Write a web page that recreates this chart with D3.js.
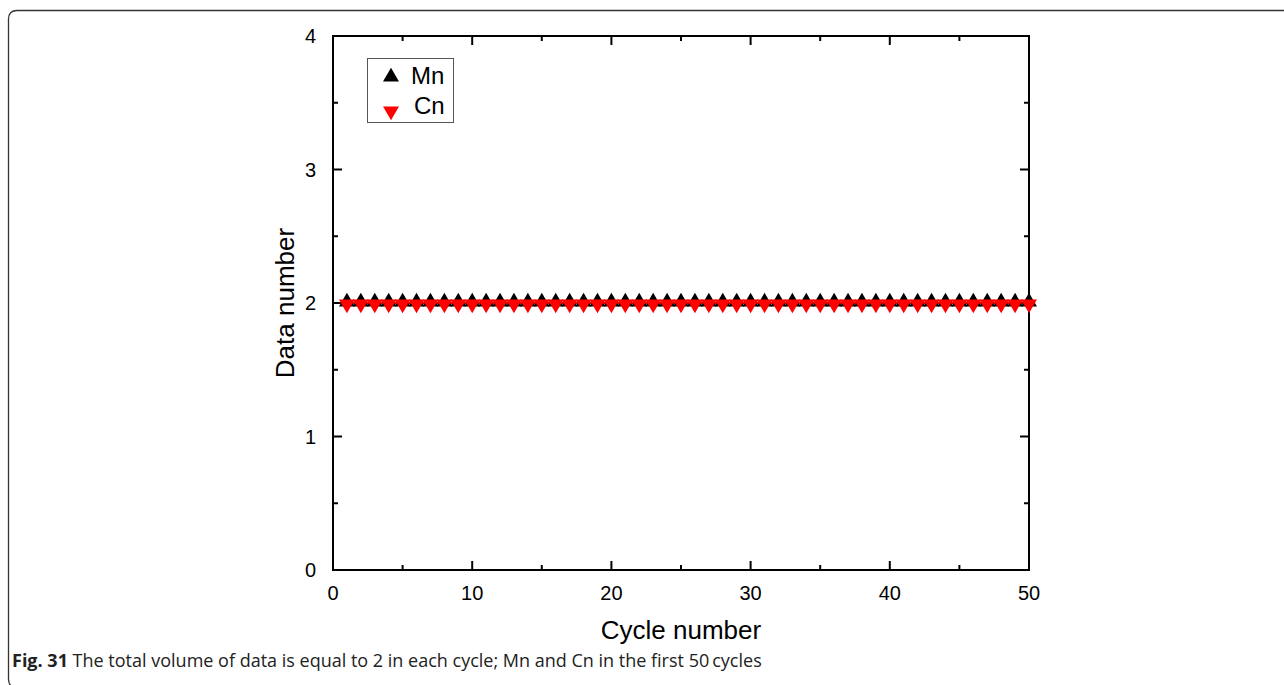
<!DOCTYPE html>
<html lang="en">
	<head>
		<meta charset="utf-8">
		<title>Data number per cycle</title>
		<script src="https://d3js.org/d3.v7.min.js"></script>
		<style type="text/css">
			body { margin: 0; background: #fff; }
			text { font-family: "Liberation Sans", Arial, sans-serif; fill: #000; }
			.tick-label { font-size: 20px; }
			.axis-label { font-size: 26px; }
			.caption { font-family: "Open Sans", sans-serif; font-size: 18px; fill: #222; }
		</style>
	</head>
	<body>
		<script type="text/javascript">
			// Data
			var cycles = d3.range(1, 51);
			var mnValues = cycles.map(function() { return 1; });
			var cnValues = cycles.map(function() { return 1; });
			var xTicks = [0, 10, 20, 30, 40, 50];
			var yTicks = [0, 1, 2, 3, 4];
			var seriesNames = ["Mn", "Cn"];

			var w = 1284, h = 685;
			var margin = {top: 36, right: 255, bottom: 115, left: 333};

			var svg = d3.select("body").append("svg")
				.attr("width", w)
				.attr("height", h);

			// Outer frame (rounded at left, bottom edge falls just off the page)
			svg.append("path")
				.attr("d", "M1300,10.5 L17,10.5 Q8.5,10.5 8.5,19 L8.5,679 Q8.5,687.5 17,687.5 L1300,687.5")
				.attr("fill", "none")
				.attr("stroke", "#333")
				.attr("stroke-width", 1.3);

			var xScale = d3.scaleLinear().domain([0, 50]).range([margin.left, w - margin.right]);
			var yScale = d3.scaleLinear().domain([0, 4]).range([h - margin.bottom, margin.top]);

			var x0 = xScale(0), x1 = xScale(50), y0 = yScale(0), y1 = yScale(4);

			// Ticks (inward, mirrored on top/right)
			var g = svg.append("g").attr("stroke", "#000").attr("stroke-width", 2);
			d3.range(0, 51, 5).forEach(function(v) {
				var len = v % 10 === 0 ? 9 : 5;
				g.append("line").attr("x1", xScale(v)).attr("x2", xScale(v)).attr("y1", y0).attr("y2", y0 - len);
				g.append("line").attr("x1", xScale(v)).attr("x2", xScale(v)).attr("y1", y1).attr("y2", y1 + len);
			});
			d3.range(0, 4.01, 0.5).forEach(function(v) {
				var len = Math.abs(v - Math.round(v)) < 1e-9 ? 9 : 5;
				g.append("line").attr("y1", yScale(v)).attr("y2", yScale(v)).attr("x1", x0).attr("x2", x0 + len);
				g.append("line").attr("y1", yScale(v)).attr("y2", yScale(v)).attr("x1", x1).attr("x2", x1 - len);
			});

			// Plot frame
			svg.append("rect")
				.attr("x", x0).attr("y", y1)
				.attr("width", x1 - x0).attr("height", y0 - y1)
				.attr("fill", "none").attr("stroke", "#000").attr("stroke-width", 2);

			// Tick labels
			svg.selectAll("text.xt").data(xTicks).enter().append("text")
				.attr("class", "tick-label")
				.attr("x", function(d) { return xScale(d); })
				.attr("y", y0 + 30)
				.attr("text-anchor", "middle")
				.text(function(d) { return d; });
			svg.selectAll("text.yt").data(yTicks).enter().append("text")
				.attr("class", "tick-label")
				.attr("x", x0 - 17)
				.attr("y", function(d) { return yScale(d) + 7; })
				.attr("text-anchor", "end")
				.text(function(d) { return d; });

			// Axis labels
			svg.append("text")
				.attr("class", "axis-label")
				.attr("x", (x0 + x1) / 2)
				.attr("y", y0 + 69)
				.attr("text-anchor", "middle")
				.text("Cycle number");
			svg.append("text")
				.attr("class", "axis-label")
				.attr("transform", "translate(294," + yScale(2) + ") rotate(-90)")
				.attr("text-anchor", "middle")
				.text("Data number");

			// Series: total data per cycle (Mn + Cn) plotted for each series
			var mnData = cycles.map(function(c, i) { return {x: c, y: mnValues[i] + cnValues[i]}; });
			var cnData = cycles.map(function(c, i) { return {x: c, y: mnValues[i] + cnValues[i]}; });

			var line = d3.line().x(function(d) { return xScale(d.x); }).y(function(d) { return yScale(d.y); });
			svg.append("path").datum(mnData).attr("d", line)
				.attr("fill", "none").attr("stroke", "#000").attr("stroke-width", 1.5);

			var tri = d3.symbol().type(d3.symbolTriangle).size(110);

			svg.selectAll("path.mn").data(mnData).enter().append("path")
				.attr("class", "mn")
				.attr("d", tri)
				.attr("fill", "#000")
				.attr("transform", function(d) { return "translate(" + xScale(d.x) + "," + (yScale(d.y) - 1) + ")"; });

			svg.append("path").datum(cnData).attr("d", line)
				.attr("fill", "none").attr("stroke", "#f00").attr("stroke-width", 1);

			svg.selectAll("path.cn").data(cnData).enter().append("path")
				.attr("class", "cn")
				.attr("d", tri)
				.attr("fill", "#f00")
				.attr("transform", function(d) { return "translate(" + xScale(d.x) + "," + (yScale(d.y) + 1) + ") rotate(180)"; });

			// Legend
			var lg = svg.append("g");
			lg.append("rect")
				.attr("x", 367.5).attr("y", 58.5)
				.attr("width", 86).attr("height", 64)
				.attr("fill", "#fff").attr("stroke", "#555").attr("stroke-width", 1);
			var legendItems = lg.selectAll("g.item").data(seriesNames).enter().append("g")
				.attr("class", "item")
				.attr("transform", function(d, i) { return "translate(391," + (77 + i * 34) + ")"; });
			legendItems.append("path")
				.attr("d", tri)
				.attr("fill", function(d, i) { return i === 0 ? "#000" : "#f00"; })
				.attr("transform", function(d, i) { return i === 0 ? "" : "rotate(180)"; });
			legendItems.append("text")
				.attr("x", function(d, i) { return i === 0 ? 20 : 23; })
				.attr("y", function(d, i) { return i === 0 ? 7 : 3; })
				.attr("font-size", 24)
				.text(function(d) { return d; });

			// Caption
			var cap = svg.append("text").attr("class", "caption").attr("x", 12).attr("y", 667);
			cap.append("tspan").attr("font-weight", "bold").text("Fig. 31");
			cap.append("tspan").text(" The total volume of data is equal to 2 in each cycle; Mn and Cn in the first 50\u2009cycles");
		</script>
	</body>
</html>
